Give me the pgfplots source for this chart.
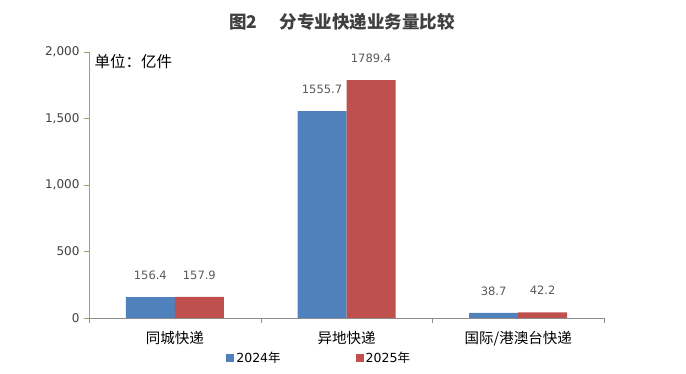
\documentclass[border=0pt]{standalone}
\usepackage{fontspec}
\setmainfont{Noto Sans CJK SC}
\newfontfamily\dv{DejaVu Sans}
\usepackage{pgfplots}
\pgfplotsset{compat=1.18}
\definecolor{cblue}{HTML}{4F81BD}
\definecolor{cred}{HTML}{C0504D}
\definecolor{yline}{HTML}{A09E72}
\definecolor{xline}{HTML}{8C8C8C}
\definecolor{txt}{HTML}{404040}
\definecolor{lbl}{HTML}{595959}
\begin{document}
\begin{tikzpicture}[x=1pt,y=1pt]
\useasboundingbox (0,0) rectangle (686,374);
\node[font=\bfseries\fontsize{17.5}{20}\selectfont, text=txt] at (342,352) {图2\hspace{22pt}分专业快递业务量比较};
\begin{axis}[
  at={(89pt,56pt)}, anchor=south west,
  scale only axis, width=515pt, height=266pt,
  xmin=-0.5, xmax=2.5, ymin=0, ymax=2000,
  axis lines*=left,
  xtick={0,1,2},
  xticklabels={同城快递,异地快递,国际/港澳台快递},
  minor xtick={-0.5,0.5,1.5,2.5},
  major x tick style={draw=none},
  minor tick length=5pt,
  minor x tick style={draw=xline},
  ytick={0,500,1000,1500,2000},
  major tick length=5pt,
  y tick style={draw=yline},
  tick align=outside,
  xtick pos=left, ytick pos=left,
  x axis line style={draw=xline},
  y axis line style={draw=yline},
  /pgf/number format/assume math mode=true,
  /pgf/number format/1000 sep={,},
  yticklabel style={font=\dv\fontsize{12}{14}\selectfont, text=txt, xshift=-1pt},
  xticklabel style={font=\fontsize{14.5}{16}\selectfont, text=black, yshift=-5pt},
  ybar=0pt, bar width=49pt,
  nodes near coords,
  every node near coord/.append style={font=\dv\fontsize{11.5}{13}\selectfont, text=lbl, anchor=center, yshift=22pt},
  point meta=explicit symbolic,
  legend style={at={(0.447,-0.152)}, anchor=center, draw=none, fill=none,
    legend columns=2, font=\fontsize{12.5}{14}\selectfont,
    /tikz/every even column/.append style={column sep=73pt}},
  legend image code/.code={\fill[#1] (0pt,-4pt) rectangle (8pt,4pt);},
  clip=false,
]
\addplot[fill=cblue, draw=none] coordinates {(0,156.4)[156.4] (1,1555.7)[1555.7] (2,38.7)[38.7]};
\addplot[fill=cred, draw=none] coordinates {(0,157.9)[157.9] (1,1789.4)[1789.4] (2,42.2)[42.2]};
\legend{{\dv 2024}年,{\dv 2025}年}
\node[anchor=west, font=\fontsize{15.5}{17}\selectfont, text=black] at (axis cs:-0.5,1925) {\hspace{2pt}单位：亿件};
\end{axis}
\end{tikzpicture}
\end{document}
